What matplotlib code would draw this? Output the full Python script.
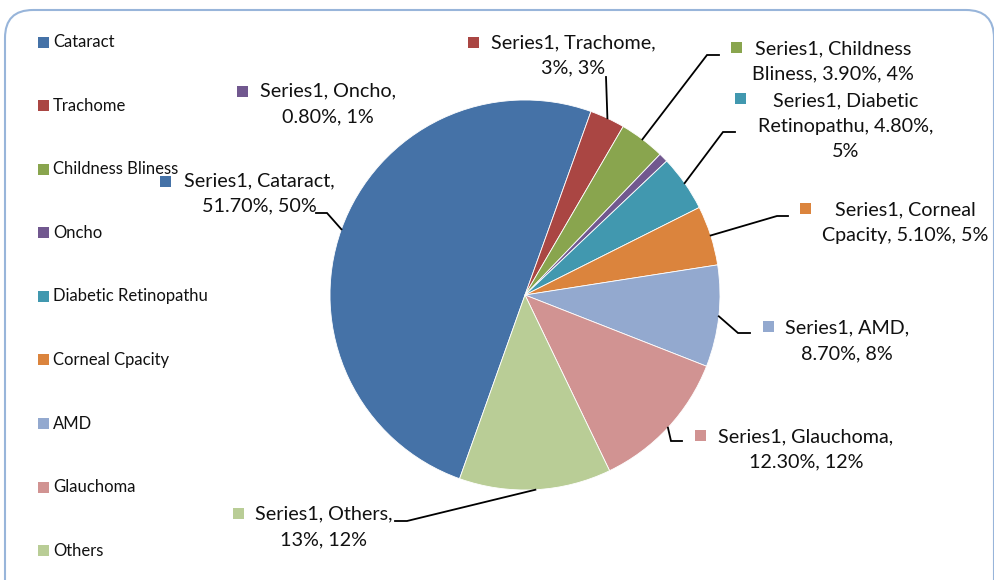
import matplotlib.pyplot as plt
import numpy as np
from matplotlib.patches import FancyBboxPatch, Rectangle

causes = ["Cataract", "Trachome", "Childness Bliness", "Oncho", "Diabetic Retinopathu",
          "Corneal Cpacity", "AMD", "Glauchoma", "Others"]
values = [51.7, 3, 3.9, 0.8, 4.8, 5.1, 8.7, 12.3, 13]
value_text = ["51.70%", "3%", "3.90%", "0.80%", "4.80%", "5.10%", "8.70%", "12.30%", "13%"]
pct_shown = [50, 3, 4, 1, 5, 5, 8, 12, 12]
colors = ["#4572A7", "#AA4643", "#89A54E", "#71588F", "#4198AF",
          "#DB843D", "#93A9CF", "#D19392", "#B9CD96"]

# where excel wrapped each data label
wrap_after = ["Cataract,", "Trachome,", "Childness", "Oncho,", ["Diabetic", "4.80%,"],
              "Corneal", "AMD,", "Glauchoma,", "Others,"]

# layout, in pixels from top-left
label_pos = [(259, 193.5), (573, 55.5), (833, 61.5), (328, 104), (846, 126),
             (905, 223), (847, 341), (806, 449.5), (324, 527)]
marker_pos = [(165.5, 181), (473, 42.5), (736.5, 47.5), (242, 91.5), (740.5, 98.5),
              (805.5, 208.5), (768.5, 326.5), (700.5, 435.5), (238.5, 513.5)]
# elbow point and end point of each leader line (None = no line)
leaders = [((327, 213), (316, 213)), ((606, 77), (606, 77)), ((707, 55), (719, 55)), None,
           ((723, 132), (735, 132)), ((777, 216), (788, 216)), ((738, 333), (750, 333)),
           ((671, 441), (682, 441)), ((407, 521), (395, 521))]

W, H = 995, 580
fig = plt.figure(figsize=(W / 100, H / 100), dpi=100)
ax = fig.add_axes([0, 0, 1, 1])

cx, cy, r = 525, 295, 195
wedges, _ = ax.pie(values, colors=colors, startangle=109.6, counterclock=True,
                   center=(cx, cy), radius=r, frame=True,
                   wedgeprops=dict(edgecolor="white", linewidth=0.6))
ax.set_xlim(0, W)
ax.set_ylim(H, 0)
ax.set_aspect("equal")
ax.axis("off")

font = "Lato"

def wrap(text, after):
    if isinstance(after, str):
        after = [after]
    for a in after:
        text = text.replace(a + " ", a + "\n", 1)
    return text

for i, w in enumerate(wedges):
    txt = f"Series1, {causes[i]}, {value_text[i]}, {pct_shown[i]}%"
    txt = wrap(txt, wrap_after[i])
    lx, ly = label_pos[i]
    ax.text(lx, ly, txt, ha="center", va="center", multialignment="center",
            fontsize=14.2, family=font, color="#111111", linespacing=1.6)
    mx, my = marker_pos[i]
    ax.add_patch(Rectangle((mx - 5.5, my - 5.5), 11, 11, color=colors[i], lw=0))
    if leaders[i] is not None:
        mid = np.deg2rad((w.theta1 + w.theta2) / 2)
        px, py = cx + r * np.cos(mid), cy + r * np.sin(mid)
        (ex, ey), (tx, ty) = leaders[i]
        ax.plot([px, ex, tx], [py, ey, ty], color="black", lw=1.3,
                solid_joinstyle="miter")

# legend down the left side
for i, name in enumerate(causes):
    y = 42 + i * 63.6
    ax.add_patch(Rectangle((38, y - 5.5), 11, 11, color=colors[i], lw=0))
    ax.text(53, y, name, ha="left", va="center", fontsize=12, family=font,
            color="#111111")

# rounded chart border
ax.add_patch(FancyBboxPatch((5, 10), 989, 600, boxstyle="round,pad=0,rounding_size=28",
                            fill=False, edgecolor="#98B5DA", lw=1.5, clip_on=False))

fig.savefig("out.png", dpi=100)
